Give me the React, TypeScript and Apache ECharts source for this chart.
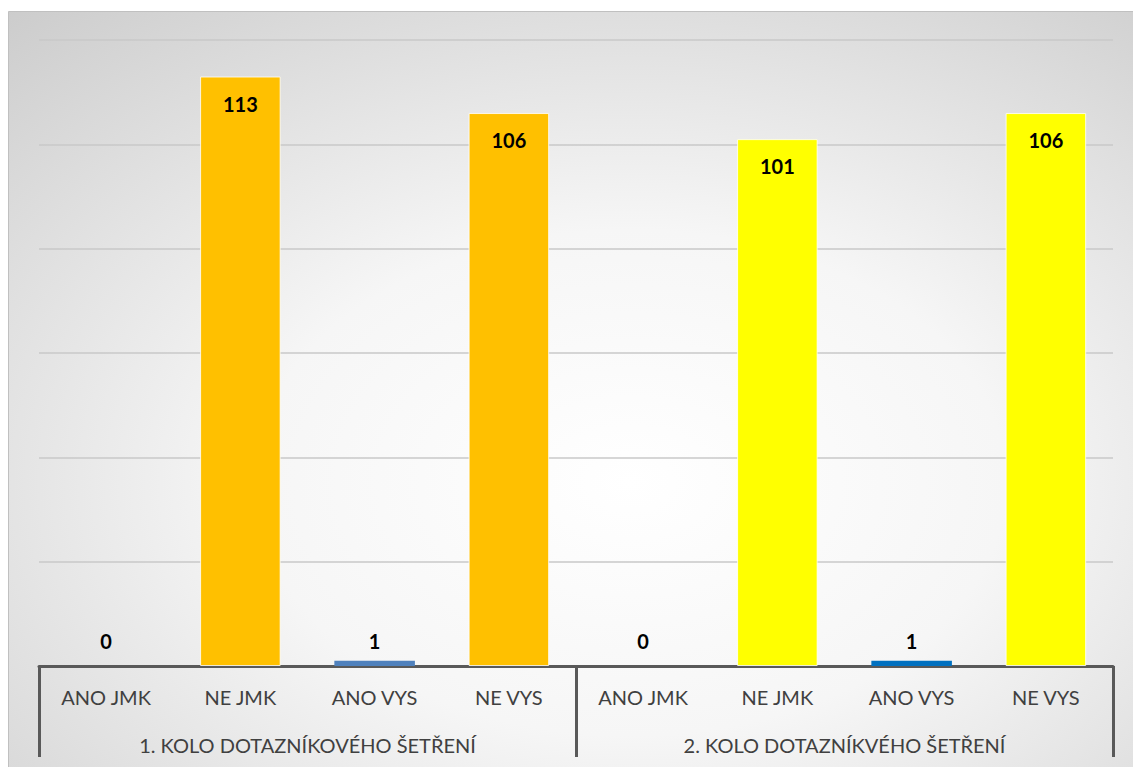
import React, { useEffect, useRef } from "react";
import * as echarts from "echarts";

// Answers per category, two survey rounds side by side
const categories = ["ANO JMK", "NE JMK", "ANO VYS", "NE VYS", "ANO JMK", "NE JMK", "ANO VYS", "NE VYS"];
const groups = ["1. KOLO DOTAZNÍKOVÉHO ŠETŘENÍ", "2. KOLO DOTAZNÍKVÉHO ŠETŘENÍ"];
const values = [0, 113, 1, 106, 0, 101, 1, 106];
const barColors = ["#5B9BD5", "#FFC000", "#4F81BD", "#FFC000", "#0070C0", "#FFFF00", "#0070C0", "#FFFF00"];

const FONT = "Lato, 'Open Sans', sans-serif";

export default function App() {
  const ref = useRef<HTMLDivElement>(null);

  useEffect(() => {
    if (!ref.current) return;
    const chart = echarts.init(ref.current, undefined, { renderer: "svg" });

    const data = values.map((v, i) => ({
      value: v,
      itemStyle: {
        color: barColors[i],
        borderColor: "rgba(255,255,255,0.8)",
        borderWidth: v >= 10 ? 1 : 0,
      },
      label:
        v >= 10
          ? { position: "insideTop", distance: 17 }
          : { position: "top", distance: v === 0 ? 15 : 10 },
    }));

    chart.setOption({
      animation: false,
      backgroundColor: "#ffffff",
      graphic: [
        {
          type: "rect",
          z: -10,
          silent: true,
          shape: { x: 8.5, y: 11.5, width: 1130, height: 760 },
          style: {
            fill: new echarts.graphic.RadialGradient(0.55, 0.62, 0.95, [
              { offset: 0, color: "#ffffff" },
              { offset: 0.35, color: "#f6f6f6" },
              { offset: 1, color: "#c2c2c2" },
            ]),
            stroke: "#c0c0c0",
            lineWidth: 1,
          },
        },
      ],
      grid: { left: 39, right: 20, top: 40, bottom: 101 },
      xAxis: [
        {
          type: "category",
          data: categories,
          position: "bottom",
          axisLine: { show: false },
          axisTick: { show: false },
          axisLabel: {
            interval: 0,
            margin: 21,
            fontSize: 20,
            fontFamily: FONT,
            color: "#404040",
          },
        },
        {
          type: "category",
          data: groups,
          position: "bottom",
          axisLine: { show: true, lineStyle: { color: "#595959", width: 3 } },
          axisTick: {
            show: true,
            length: 91,
            lineStyle: { color: "#595959", width: 3 },
          },
          axisLabel: {
            interval: 0,
            margin: 69,
            fontSize: 20,
            fontFamily: FONT,
            color: "#404040",
          },
        },
      ],
      yAxis: {
        type: "value",
        min: 0,
        max: 120,
        interval: 20,
        axisLine: { show: false },
        axisTick: { show: false },
        axisLabel: { show: false },
        splitLine: { lineStyle: { color: "#c8c8c8", width: 1.5 } },
      },
      series: [
        {
          type: "bar",
          xAxisIndex: 0,
          barWidth: "60%",
          data,
          label: {
            show: true,
            color: "#000000",
            fontWeight: "bold",
            fontSize: 20,
            fontFamily: FONT,
          },
        },
      ],
    });

    return () => chart.dispose();
  }, []);

  return (
    <div
      ref={ref}
      style={{ position: "absolute", left: 0, top: 0, width: 1133, height: 767 }}
    />
  );
}
